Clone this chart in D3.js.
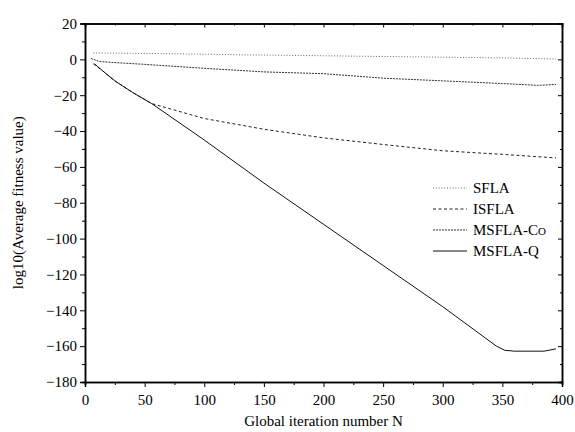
<!DOCTYPE html>
<html lang="en">
<head>
<meta charset="UTF-8">
<title>Average fitness value</title>
<script src="https://d3js.org/d3.v7.min.js"></script>
<style>
  body { margin: 0; padding: 0; background: #fff; }
</style>
</head>
<body>
<div id="chart"></div>
<script>
  // data
  const sflaN = [7, 50, 100, 130, 150, 200, 250, 300, 350, 395];
  const sflaV = [3.6, 3.3, 2.9, 2.5, 2.4, 2.0, 1.6, 1.2, 0.8, 0.2];

  const isflaN = [7, 15, 25, 40, 56, 100, 150, 200, 250, 300, 350, 395];
  const isflaV = [-2.5, -6.5, -12, -18.5, -24.7, -33, -39, -43.8, -47.5, -51, -53, -55];

  const coN = [5, 12, 20, 50, 100, 150, 200, 250, 300, 350, 380, 395];
  const coV = [0.5, -1.2, -1.6, -2.8, -5, -7, -8, -10.5, -12, -13.5, -14.5, -14];

  const qN = [8, 15, 25, 40, 56, 100, 150, 200, 250, 300, 345, 352, 360, 385, 395];
  const qV = [-2.5, -6.5, -12, -18.5, -24.7, -45, -69, -92, -115, -138, -160, -162.3, -162.8, -162.8, -161.5];

  const xTicks = [0, 50, 100, 150, 200, 250, 300, 350, 400];
  const yTicks = [20, 0, -20, -40, -60, -80, -100, -120, -140, -160, -180];

  const font = "'Liberation Serif', 'Times New Roman', Times, serif";
  const width = 575, height = 432;
  const margin = { top: 23.5, right: 13, bottom: 50, left: 85 };

  const svg = d3.select("#chart").append("svg")
    .attr("width", width)
    .attr("height", height)
    .attr("font-family", font);

  const x = d3.scaleLinear().domain([0, 400]).range([margin.left, width - margin.right]);
  const y = d3.scaleLinear().domain([-180, 20]).range([height - margin.bottom, margin.top]);

  const minorX = d3.range(25, 400, 50);
  const minorY = d3.range(-170, 20, 20);

  // bottom axis, ticks outward
  const gBottom = svg.append("g").attr("transform", `translate(0,${y(-180)})`);
  gBottom.call(d3.axisBottom(x).tickValues(xTicks).tickSize(5).tickPadding(7).tickFormat(d3.format("d")));
  gBottom.append("g").call(d3.axisBottom(x).tickValues(minorX).tickSize(3).tickFormat(""));

  // left axis, ticks outward
  const gLeft = svg.append("g").attr("transform", `translate(${x(0)},0)`);
  gLeft.call(d3.axisLeft(y).tickValues(yTicks).tickSize(5).tickPadding(3).tickFormat(d3.format("d")));
  gLeft.append("g").call(d3.axisLeft(y).tickValues(minorY).tickSize(3).tickFormat(""));

  // top and right axes, ticks inward
  const gTop = svg.append("g").attr("transform", `translate(0,${y(20)})`);
  gTop.call(d3.axisTop(x).tickValues(xTicks).tickSize(-4).tickFormat(""));
  gTop.append("g").call(d3.axisTop(x).tickValues(minorX).tickSize(-2).tickFormat(""));
  const gRight = svg.append("g").attr("transform", `translate(${x(400)},0)`);
  gRight.call(d3.axisRight(y).tickValues(yTicks).tickSize(-4).tickFormat(""));
  gRight.append("g").call(d3.axisRight(y).tickValues(minorY).tickSize(-2).tickFormat(""));

  svg.selectAll("g").attr("font-family", font);
  svg.selectAll(".domain").attr("stroke", "#000").attr("stroke-width", 1.5);
  svg.selectAll(".tick line").attr("stroke", "#000").attr("stroke-width", 1);
  svg.selectAll(".tick text").attr("font-size", 15).attr("fill", "#000");

  const line = d3.line().x(d => x(d[0])).y(d => y(d[1]));

  const series = [
    { name: "SFLA", n: sflaN, v: sflaV, dash: "1,1.8", width: 0.9, color: "#555" },
    { name: "ISFLA", n: isflaN, v: isflaV, dash: "3,2.5", width: 1, color: "#222" },
    { name: "MSFLA-C", n: coN, v: coV, dash: "2,1", width: 1, color: "#333" },
    { name: "MSFLA-Q", n: qN, v: qV, dash: null, width: 1, color: "#111" }
  ];

  series.forEach(s => {
    svg.append("path")
      .datum(s.n.map((n, i) => [n, s.v[i]]))
      .attr("fill", "none")
      .attr("stroke", s.color)
      .attr("stroke-width", s.width)
      .attr("stroke-dasharray", s.dash)
      .attr("d", line);
  });

  // legend
  const legend = svg.append("g").attr("transform", "translate(433,188)");
  series.forEach((s, i) => {
    const row = legend.append("g").attr("transform", `translate(0,${i * 21})`);
    row.append("line")
      .attr("x1", 0).attr("x2", 34)
      .attr("stroke", s.color)
      .attr("stroke-width", s.width)
      .attr("stroke-dasharray", s.dash);
    const t = row.append("text")
      .attr("x", 40).attr("dy", "0.35em")
      .attr("font-size", 15)
      .text(s.name);
    if (s.name === "MSFLA-C") t.append("tspan").attr("font-size", 11).text("O");
  });

  // axis titles
  svg.append("text")
    .attr("x", x(200)).attr("y", 426)
    .attr("text-anchor", "middle")
    .attr("font-size", 15)
    .text("Global iteration number N");

  svg.append("text")
    .attr("transform", `translate(23,${y(-80)}) rotate(-90)`)
    .attr("text-anchor", "middle")
    .attr("font-size", 15)
    .text("log10(Average fitness value)");
</script>
</body>
</html>
